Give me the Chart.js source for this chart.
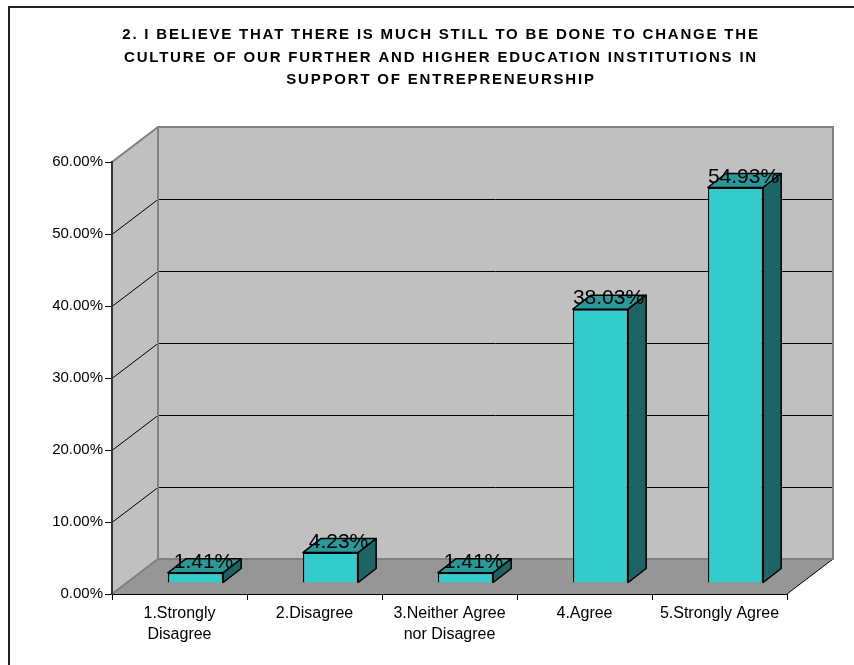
<!DOCTYPE html>
<html>
<head>
<meta charset="utf-8">
<script src="https://cdn.jsdelivr.net/npm/chart.js@4/dist/chart.umd.min.js"></script>
<style>
  body { margin: 0; background: #fff; }
  canvas { display: block; }
</style>
</head>
<body>
<canvas id="survey" width="854" height="665"></canvas>
<script>
// chart data
var titleLines = [
    "2. I BELIEVE THAT THERE IS MUCH STILL TO BE DONE TO CHANGE THE",
    "CULTURE OF OUR FURTHER AND HIGHER EDUCATION INSTITUTIONS IN",
    "SUPPORT OF ENTREPRENEURSHIP"
];
var categories = [
    ["1.Strongly", "Disagree"],
    "2.Disagree",
    ["3.Neither Agree", "nor Disagree"],
    "4.Agree",
    "5.Strongly Agree"
];
var percentValues = [1.41, 4.23, 1.41, 38.03, 54.93];
var yTickValues = [0, 10, 20, 30, 40, 50, 60];

// 3d look: depth of the walls and of the bars
var DX = 46, DY = -35;
var BAR_SHIFT_X = 16, BAR_SHIFT_Y = -11;
var BAR_DEPTH_X = 18, BAR_DEPTH_Y = -14;

var walls = {
    id: "walls",
    beforeDraw: function (chart) {
        var c = chart.ctx, a = chart.chartArea, y = chart.scales.y;
        var L = a.left, R = a.right;
        var top = y.getPixelForValue(yTickValues[yTickValues.length - 1]);
        var bot = y.getPixelForValue(0);
        c.save();
        // left side wall
        c.fillStyle = "#c0c0c0";
        c.beginPath();
        c.moveTo(L, top); c.lineTo(L + DX, top + DY);
        c.lineTo(L + DX, bot + DY); c.lineTo(L, bot);
        c.closePath(); c.fill();
        // back wall
        c.fillRect(L + DX, top + DY, R - L, bot - top);
        // floor
        c.fillStyle = "#969696";
        c.beginPath();
        c.moveTo(L, bot); c.lineTo(R, bot);
        c.lineTo(R + DX, bot + DY); c.lineTo(L + DX, bot + DY);
        c.closePath(); c.fill();
        // gridlines
        c.strokeStyle = "#000"; c.lineWidth = 1;
        yTickValues.slice(1, -1).forEach(function (v) {
            var py = Math.round(y.getPixelForValue(v)) + 0.5;
            c.beginPath();
            c.moveTo(L, py); c.lineTo(L + DX, py + DY);
            c.lineTo(R + DX, py + DY);
            c.stroke();
        });
        // floor right edge
        c.beginPath();
        c.moveTo(R, bot); c.lineTo(R + DX, bot + DY); c.stroke();
        // grey edges
        c.strokeStyle = "#808080"; c.lineWidth = 2;
        c.beginPath();
        c.moveTo(L, top); c.lineTo(L + DX, top + DY);
        c.lineTo(R + DX, top + DY); c.lineTo(R + DX, bot + DY);
        c.lineTo(L + DX, bot + DY); c.lineTo(L, bot);
        c.moveTo(L + DX, top + DY); c.lineTo(L + DX, bot + DY);
        c.stroke();
        c.restore();
    },
    beforeDatasetsDraw: function (chart) {
        chart.ctx.save();
        chart.ctx.translate(BAR_SHIFT_X, BAR_SHIFT_Y);
    },
    afterDatasetsDraw: function (chart) {
        var c = chart.ctx;
        var meta = chart.getDatasetMeta(0);
        c.lineWidth = 1.5;
        c.strokeStyle = "#000";
        c.lineJoin = "round";
        meta.data.forEach(function (bar, i) {
            var p = bar.getProps(["x", "y", "base", "width"], true);
            var l = p.x - p.width / 2, r = p.x + p.width / 2;
            // top face
            c.fillStyle = "#2a9999";
            c.beginPath();
            c.moveTo(l, p.y); c.lineTo(l + BAR_DEPTH_X, p.y + BAR_DEPTH_Y);
            c.lineTo(r + BAR_DEPTH_X, p.y + BAR_DEPTH_Y); c.lineTo(r, p.y);
            c.closePath(); c.fill(); c.stroke();
            // side face
            c.fillStyle = "#1d6464";
            c.beginPath();
            c.moveTo(r, p.y); c.lineTo(r + BAR_DEPTH_X, p.y + BAR_DEPTH_Y);
            c.lineTo(r + BAR_DEPTH_X, p.base + BAR_DEPTH_Y); c.lineTo(r, p.base);
            c.closePath(); c.fill(); c.stroke();
        });
        // value labels
        c.fillStyle = "#000";
        c.font = '21px "Liberation Sans", Arial, sans-serif';
        c.textAlign = "center";
        c.textBaseline = "alphabetic";
        meta.data.forEach(function (bar, i) {
            var p = bar.getProps(["x", "y"], true);
            c.fillText(percentValues[i].toFixed(2) + "%", p.x + 8, p.y - 5);
        });
        c.restore();
    },
    afterDraw: function (chart) {
        var c = chart.ctx;
        c.save();
        c.fillStyle = "#000";
        c.font = 'bold 15px "Liberation Sans", Arial, sans-serif';
        c.textAlign = "center";
        c.textBaseline = "alphabetic";
        c.letterSpacing = "1.8px";
        titleLines.forEach(function (t, i) {
            c.fillText(t, 441, 39 + i * 22.5);
        });
        c.letterSpacing = "0px";
        // outer frame
        c.strokeStyle = "#222";
        c.lineWidth = 2;
        c.strokeRect(9, 7, 1000, 1000);
        c.restore();
    }
};

new Chart(document.getElementById("survey"), {
    type: "bar",
    data: {
        labels: categories,
        datasets: [{
            data: percentValues,
            backgroundColor: "#33cccc",
            borderColor: "#000",
            borderWidth: 1.5,
            barPercentage: 0.41,
            categoryPercentage: 1.0
        }]
    },
    options: {
        responsive: false,
        animation: false,
        layout: { padding: { left: 12, right: 67, top: 162, bottom: 16 } },
        plugins: {
            legend: { display: false },
            tooltip: { enabled: false },
            title: { display: false }
        },
        scales: {
            x: {
                afterFit: function (s) { s.height = 55; },
                grid: { drawOnChartArea: false, drawTicks: true, tickLength: 6, color: "#000", offset: true },
                border: { display: true, color: "#000", width: 1 },
                ticks: {
                    color: "#000",
                    padding: 3,
                    maxRotation: 0,
                    autoSkip: false,
                    font: { family: '"Liberation Sans", Arial, sans-serif', size: 16, lineHeight: 1.3 }
                }
            },
            y: {
                min: 0,
                max: 60,
                afterFit: function (s) { s.width = 100; },
                grid: { drawOnChartArea: false, drawTicks: true, tickLength: 7, color: "#000" },
                border: { display: true, color: "#333", width: 2 },
                ticks: {
                    stepSize: 10,
                    color: "#000",
                    padding: 2,
                    callback: function (v) { return v.toFixed(2) + "%"; },
                    font: { family: '"Liberation Sans", Arial, sans-serif', size: 15 }
                }
            }
        }
    },
    plugins: [walls]
});
</script>
</body>
</html>
